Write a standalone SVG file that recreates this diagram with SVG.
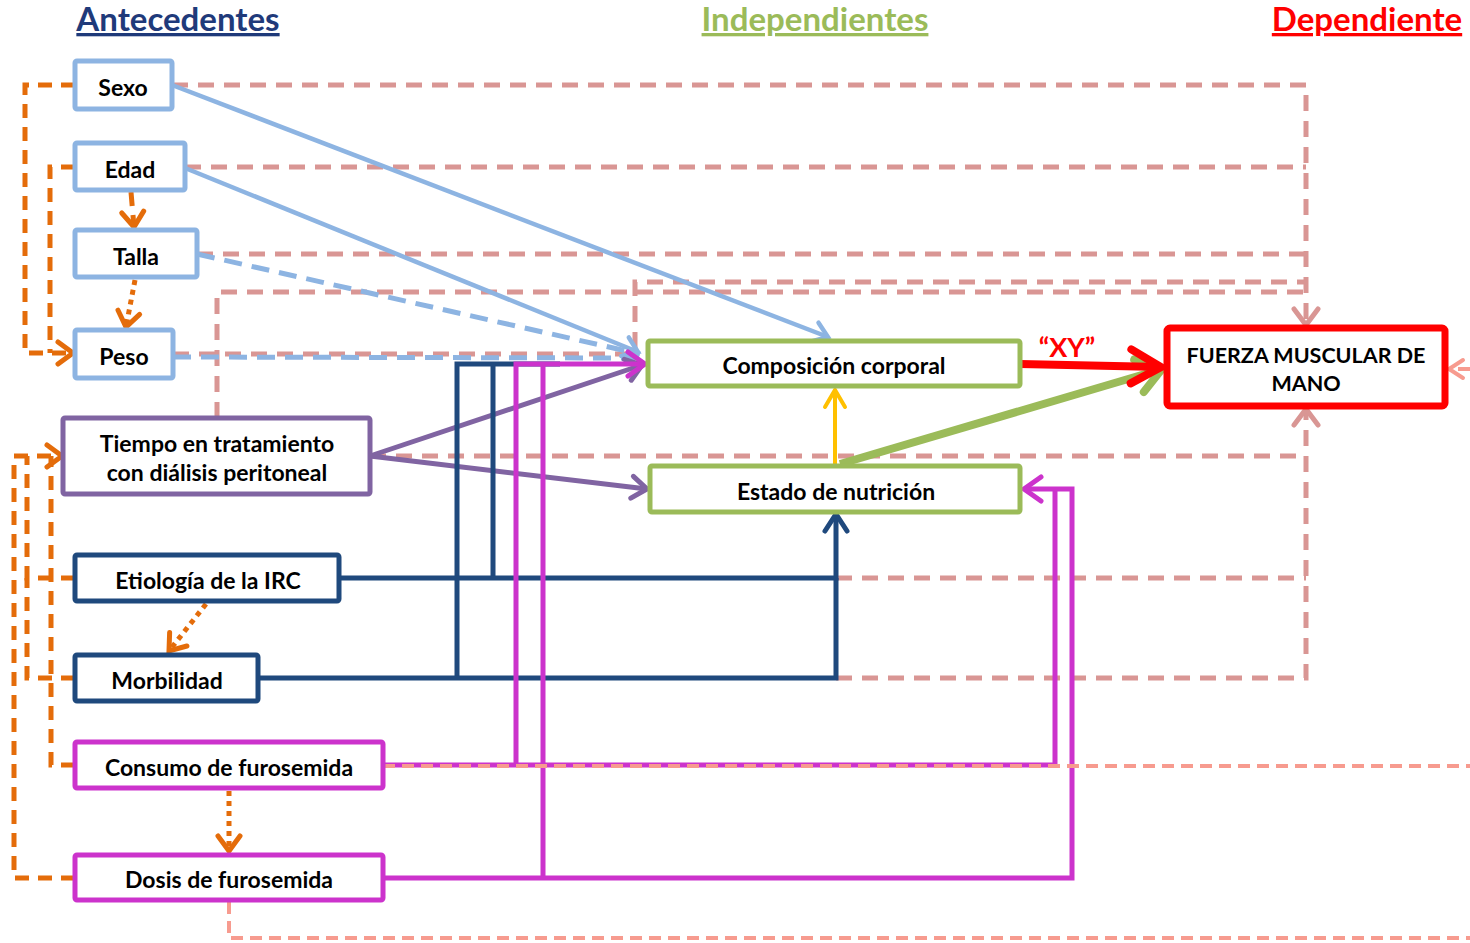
<svg xmlns="http://www.w3.org/2000/svg" width="1470" height="943" viewBox="0 0 1470 943">
<style>
.hdr{font-family:Lato,"Open Sans","Liberation Sans",sans-serif;font-weight:bold;font-size:33px;text-decoration:underline;text-anchor:middle}
.lbl{font-family:Lato,"Open Sans","Liberation Sans",sans-serif;font-weight:bold;font-size:23px;fill:#000;text-anchor:middle}
.box{fill:#fff;stroke-width:5}
.bl{stroke:#8DB4E2}.pu{stroke:#8064A2}.db{stroke:#1F497D}.mg{stroke:#CC33CC}.gr{stroke:#9BBB59}.rd{stroke:#FF0000}
.c{fill:none;stroke-linejoin:miter}
.pk{stroke:#D99694;stroke-width:5;stroke-dasharray:16 10}
.sa{stroke:#F79B8F;stroke-width:4;stroke-dasharray:12 7}
.or{stroke:#E46C0A;stroke-width:5;stroke-dasharray:14 9}
.ord{stroke:#E46C0A;stroke-width:5;stroke-dasharray:5 5}
</style>
<defs>
<marker id="mPk" markerUnits="userSpaceOnUse" markerWidth="40" markerHeight="40" viewBox="-20 -20 40 40" orient="auto" overflow="visible"><path d="M-16,-12 L0,0 L-16,12" fill="none" stroke="#D99694" stroke-width="5" stroke-linecap="round"/></marker>
<marker id="mSa" markerUnits="userSpaceOnUse" markerWidth="40" markerHeight="40" viewBox="-20 -20 40 40" orient="auto" overflow="visible"><path d="M-14,-9 L0,0 L-14,9" fill="none" stroke="#F79B8F" stroke-width="4" stroke-linecap="round"/></marker>
<marker id="mBl" markerUnits="userSpaceOnUse" markerWidth="40" markerHeight="40" viewBox="-20 -20 40 40" orient="auto" overflow="visible"><path d="M-14,-10 L0,0 L-14,10" fill="none" stroke="#8DB4E2" stroke-width="4.5" stroke-linecap="round"/></marker>
<marker id="mPu" markerUnits="userSpaceOnUse" markerWidth="40" markerHeight="40" viewBox="-20 -20 40 40" orient="auto" overflow="visible"><path d="M-15,-11 L0,0 L-15,11" fill="none" stroke="#8064A2" stroke-width="5" stroke-linecap="round"/></marker>
<marker id="mMg" markerUnits="userSpaceOnUse" markerWidth="40" markerHeight="40" viewBox="-20 -20 40 40" orient="auto" overflow="visible"><path d="M-17,-12 L0,0 L-17,12" fill="none" stroke="#CC33CC" stroke-width="5" stroke-linecap="round"/></marker>
<marker id="mDb" markerUnits="userSpaceOnUse" markerWidth="40" markerHeight="40" viewBox="-20 -20 40 40" orient="auto" overflow="visible"><path d="M-17,-11 L0,0 L-17,11" fill="none" stroke="#1F497D" stroke-width="5" stroke-linecap="round"/></marker>
<marker id="mOr" markerUnits="userSpaceOnUse" markerWidth="40" markerHeight="40" viewBox="-20 -20 40 40" orient="auto" overflow="visible"><path d="M-15,-11 L0,0 L-15,11" fill="none" stroke="#E46C0A" stroke-width="5" stroke-linecap="round"/></marker>
<marker id="mYe" markerUnits="userSpaceOnUse" markerWidth="40" markerHeight="40" viewBox="-20 -20 40 40" orient="auto" overflow="visible"><path d="M-17,-10 L0,0 L-17,10" fill="none" stroke="#FFC000" stroke-width="4" stroke-linecap="round"/></marker>
<marker id="mGr" markerUnits="userSpaceOnUse" markerWidth="60" markerHeight="60" viewBox="-30 -30 60 60" orient="auto" overflow="visible"><path d="M-24,-17 L0,0 L-24,17" fill="none" stroke="#9BBB59" stroke-width="8" stroke-linecap="round"/></marker>
<marker id="mRd" markerUnits="userSpaceOnUse" markerWidth="60" markerHeight="60" viewBox="-30 -30 60 60" orient="auto" overflow="visible"><path d="M-30,-17 L0,0 L-30,17" fill="none" stroke="#FF0000" stroke-width="8" stroke-linecap="round"/></marker>
</defs>
<rect width="1470" height="943" fill="#fff"/>

<g id="headers">
<text class="hdr" x="178" y="31" fill="#1F3A7A">Antecedentes</text>
<text class="hdr" x="815" y="31" fill="#9BBB59">Independientes</text>
<text class="hdr" x="1367" y="31" fill="#FF0000">Dependiente</text>
</g>

<g id="connectors">
<path class="c pk" d="M172,85 H1306 V325" marker-end="url(#mPk)"/>
<path class="c pk" d="M185,167 H1306"/>
<path class="c pk" d="M197,254 H1306"/>
<path class="c pk" d="M173,354 H635 V282 H1306"/>
<path class="c pk" d="M217,418 V292 H1306"/>
<path class="c pk" d="M370,456 H1306"/>
<path class="c pk" d="M836,578 H1306"/>
<path class="c pk" d="M836,678 H1306 V409" marker-end="url(#mPk)"/>
<path class="c bl" stroke-width="4.5" d="M172,85 L828,337" marker-end="url(#mBl)"/>
<path class="c bl" stroke-width="4.5" d="M185,168 L638,352" marker-end="url(#mBl)"/>
<path class="c bl" stroke-width="5" stroke-dasharray="18 10" d="M197,254 L640,354"/>
<path class="c bl" stroke-width="5" stroke-dasharray="18 10" d="M173,357 L640,358"/>
<path class="c pu" stroke-width="5" d="M370,456 L642,365" marker-end="url(#mPu)"/>
<path class="c pu" stroke-width="5" d="M370,456 L647,489" marker-end="url(#mPu)"/>
<path class="c db" stroke-width="5" d="M457,678 V364 H560"/>
<path class="c db" stroke-width="5" d="M493,578 V364"/>
<path class="c db" stroke-width="5" d="M258,678 H836 V578"/>
<path class="c db" stroke-width="5" d="M339,578 H836 V514" marker-end="url(#mDb)"/>
<path class="c mg" stroke-width="5" d="M543,878 V364"/>
<path class="c mg" stroke-width="5" d="M383,765 H516 V364 H645" marker-end="url(#mMg)"/>
<path class="c mg" stroke-width="5" d="M516,765 H1055 V489"/>
<path class="c mg" stroke-width="5" d="M383,878 H1072 V489 H1024" marker-end="url(#mMg)"/>
<path class="c sa" d="M383,766 H1470"/>
<path class="c sa" d="M229,902 V938 H1470"/>
<path class="c sa" d="M1470,369 H1449" marker-end="url(#mSa)"/>
<path class="c or" d="M75,85 H25 V353 H73" marker-end="url(#mOr)"/>
<path class="c or" d="M75,167 H50 V353"/>
<path class="c or" d="M131,192 L134,227" marker-end="url(#mOr)"/>
<path class="c ord" d="M135,280 L126,327" marker-end="url(#mOr)"/>
<path class="c or" d="M75,878 H14 V456 H62" marker-end="url(#mOr)"/>
<path class="c or" d="M75,765 H51 V456"/>
<path class="c or" d="M75,578 H27 V456"/>
<path class="c or" d="M75,678 H27 V578"/>
<path class="c ord" d="M206,604 L169,651" marker-end="url(#mOr)"/>
<path class="c ord" d="M229,791 V851" marker-end="url(#mOr)"/>
<path class="c" stroke="#FFC000" stroke-width="4" d="M835,464 V390" marker-end="url(#mYe)"/>
<path class="c" stroke="#9BBB59" stroke-width="8" d="M840,464 L1162,369" marker-end="url(#mGr)"/>
<path class="c" stroke="#FF0000" stroke-width="8" d="M1020,364 L1161,367" marker-end="url(#mRd)"/>
<text x="1067" y="357" font-family="Lato,'Liberation Sans',sans-serif" font-weight="bold" font-size="27" fill="#FF0000" text-anchor="middle">“XY”</text>
</g>

<g id="n-sexo"><rect class="box bl" x="75" y="61" width="97" height="48" rx="2"/><text class="lbl" x="123" y="96">Sexo</text></g>
<g id="n-edad"><rect class="box bl" x="75" y="143" width="110" height="47" rx="2"/><text class="lbl" x="130" y="178">Edad</text></g>
<g id="n-talla"><rect class="box bl" x="75" y="230" width="122" height="47" rx="2"/><text class="lbl" x="136" y="265">Talla</text></g>
<g id="n-peso"><rect class="box bl" x="75" y="330" width="98" height="48" rx="2"/><text class="lbl" x="124" y="365">Peso</text></g>
<g id="n-tiempo"><rect class="box pu" x="63" y="418" width="307" height="76" rx="2"/><text class="lbl" x="217" y="452">Tiempo en tratamiento</text><text class="lbl" x="217" y="481">con diálisis peritoneal</text></g>
<g id="n-etiologia"><rect class="box db" x="75" y="555" width="264" height="46" rx="2"/><text class="lbl" x="208" y="589">Etiología de la IRC</text></g>
<g id="n-morbilidad"><rect class="box db" x="75" y="655" width="183" height="46" rx="2"/><text class="lbl" x="167" y="689">Morbilidad</text></g>
<g id="n-consumo"><rect class="box mg" x="75" y="742" width="308" height="46" rx="2"/><text class="lbl" x="229" y="776">Consumo de furosemida</text></g>
<g id="n-dosis"><rect class="box mg" x="75" y="855" width="308" height="45" rx="2"/><text class="lbl" x="229" y="888">Dosis de furosemida</text></g>
<g id="n-composicion"><rect class="box gr" x="648" y="341" width="372" height="45" rx="2"/><text class="lbl" x="834" y="374">Composición corporal</text></g>
<g id="n-estado"><rect class="box gr" x="650" y="466" width="370" height="46" rx="2"/><text class="lbl" x="836" y="500">Estado de nutrición</text></g>
<g id="n-fuerza"><rect class="box rd" style="stroke-width:7" x="1167" y="328" width="278" height="78" rx="3"/><text class="lbl" style="font-size:21.5px" x="1306" y="363">FUERZA MUSCULAR DE</text><text class="lbl" style="font-size:21.5px" x="1306" y="391">MANO</text></g>
</svg>
